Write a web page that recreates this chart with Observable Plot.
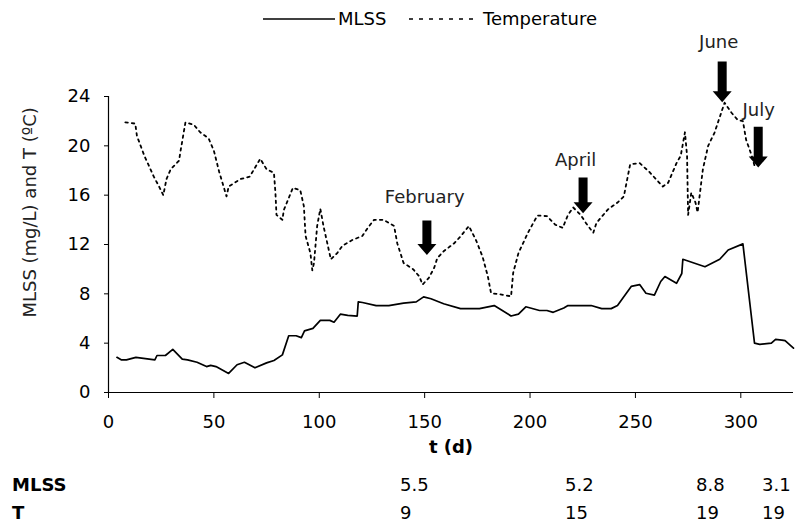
<!DOCTYPE html>
<html>
<head>
<meta charset="utf-8">
<script src="https://cdn.jsdelivr.net/npm/d3@7"></script>
<script src="https://cdn.jsdelivr.net/npm/@observablehq/plot@0.6"></script>
<style>
  body { margin: 0; background: #fff; font-family: "DejaVu Sans", Verdana, sans-serif; color: #000; }
  #wrap { position: relative; width: 795px; height: 522px; }
  #legend { position: relative; width: 795px; height: 40px; font-size: 18px; }
  #legend .item { position: absolute; top: 8px; line-height: 22px; white-space: nowrap; }
  #legend svg { position: absolute; top: 9px; }
  #table { position: absolute; left: 0; top: 465px; width: 795px; height: 57px; font-size: 18px; }
  #table div { position: absolute; line-height: 22px; white-space: nowrap; }
  .b { font-weight: bold; }
</style>
</head>
<body>
<div id="wrap">
  <div id="legend"></div>
  <div id="chart"></div>
  <div id="table"></div>
</div>
<script>
// ---- Data ----
const mlssDay = [4, 6, 8.5, 13, 22, 23, 27, 30.5, 35, 37.5, 42, 46.5, 48.5, 51, 57, 61, 64.5, 69.5, 75, 78.5, 82.5, 85.5, 89, 91.5, 93, 97, 100.5, 105, 107, 110, 113.5, 118, 118.5, 120.5, 127, 133, 140, 146, 149.5, 153, 159, 167, 176, 183, 191, 194.5, 198, 204.5, 208, 211, 216, 218, 229, 234, 238.5, 241.5, 248, 252, 255, 259, 262, 264, 269.5, 272, 272.5, 283, 290, 294, 301, 306.5, 309, 314.5, 316.5, 319.5, 321, 325];
const mlssVal = [2.85, 2.65, 2.65, 2.85, 2.65, 3.0, 3.0, 3.5, 2.7, 2.65, 2.45, 2.1, 2.2, 2.1, 1.55, 2.25, 2.45, 2.0, 2.4, 2.6, 3.05, 4.6, 4.6, 4.45, 5.0, 5.2, 5.85, 5.85, 5.7, 6.35, 6.25, 6.2, 7.35, 7.3, 7.05, 7.05, 7.25, 7.35, 7.75, 7.6, 7.2, 6.8, 6.8, 7.05, 6.2, 6.35, 6.95, 6.65, 6.65, 6.5, 6.85, 7.05, 7.05, 6.8, 6.8, 7.05, 8.6, 8.75, 8.05, 7.9, 9.0, 9.4, 8.85, 9.65, 10.8, 10.2, 10.8, 11.55, 12.05, 4.0, 3.9, 4.0, 4.3, 4.25, 4.2, 3.6];

const tempDay = [8, 12.7, 13.5, 17, 21.5, 24, 26, 27.5, 29.5, 33.5, 34, 36.5, 40.5, 43.5, 47.5, 50, 52.5, 56, 57, 62.5, 67, 72, 75, 78.5, 79.2, 79.7, 82.5, 83.2, 87.5, 91, 92.7, 93.5, 95.8, 96.7, 97.5, 99, 100.5, 102, 105.5, 108.5, 111, 115.5, 120.5, 123, 126, 130.5, 135.5, 137, 140, 144.5, 147.5, 149, 152, 154.5, 156, 159, 164, 167, 171, 174.5, 177.5, 180, 181.5, 186, 191, 192, 194.5, 199, 203.5, 208, 212, 215.5, 218, 220.5, 224, 226.5, 230, 231.5, 237, 241.5, 244.5, 247.5, 252, 256.5, 263, 265.5, 269.5, 271.5, 273.5, 274.5, 275, 276.5, 278.5, 279.5, 282, 284.5, 287.5, 292.3, 295.5, 298.5, 301, 302.5, 305, 306.5];
const tempVal = [21.9, 21.8, 20.8, 19.2, 17.5, 16.7, 16.0, 17.3, 18.1, 18.8, 19.4, 21.9, 21.7, 21.1, 20.6, 19.6, 17.9, 15.9, 16.7, 17.3, 17.5, 18.95, 18.1, 17.8, 16.2, 14.4, 14.0, 14.8, 16.6, 16.4, 15.1, 12.7, 11.3, 9.9, 10.5, 13.5, 14.9, 13.5, 10.8, 11.3, 11.9, 12.35, 12.7, 13.35, 14.0, 14.0, 13.5, 12.1, 10.5, 10.0, 9.4, 8.75, 9.3, 10.1, 10.9, 11.45, 12.1, 12.65, 13.5, 12.3, 11.0, 9.4, 8.05, 7.95, 7.8, 9.7, 11.3, 12.95, 14.35, 14.3, 13.6, 13.35, 14.4, 15.0, 14.4, 13.75, 12.95, 13.75, 14.85, 15.4, 15.9, 18.5, 18.6, 17.9, 16.7, 17.0, 18.6, 19.2, 21.1, 19.2, 14.4, 16.2, 15.4, 14.6, 18.1, 20.0, 21.05, 23.5, 22.7, 22.1, 22.0, 20.5, 19.3, 18.4];

const xTicks = [0, 50, 100, 150, 200, 250, 300];
const yTicks = [0, 4, 8, 12, 16, 20, 24];

const monthNames = ["February", "April", "June", "July"];
const arrowDay = [151.3, 225.4, 291.4, 308.5];
const arrowTip = [11.1, 14.5, 23.5, 18.2];
const arrowTop = [13.9, 17.4, 26.8, 21.5];
const labelDay = [150, 221.6, 289.5, 308.5];
const labelVal = [15.8, 18.8, 28.4, 22.9];

const seriesNames = ["MLSS", "Temperature"];
const yTitle = "MLSS (mg/L) and T (ºC)";
const xTitle = "t (d)";
const tableRows = ["MLSS", "T"];
const tableMLSS = ["5.5", "5.2", "8.8", "3.1"];
const tableT = ["9", "15", "19", "19"];

// ---- Build ----
const mlss = mlssDay.map((d, i) => ({day: d, v: mlssVal[i]}));
const temp = tempDay.map((d, i) => ({day: d, v: tempVal[i]}));
const arrows = monthNames.map((n, i) => ({name: n, day: arrowDay[i], tip: arrowTip[i], top: arrowTop[i]}));
const labels = monthNames.map((n, i) => ({name: n, day: labelDay[i], v: labelVal[i]}));

function arrowMark(index, scales) {
  const sx = scales.x, sy = scales.y;
  const g = d3.create("svg:g");
  for (const a of arrows) {
    const x = sx(a.day), y1 = sy(a.top), y2 = sy(a.tip);
    const sw = 4.5, hw = 9.5, hh = 11;
    g.append("path")
      .attr("d", `M${x - sw},${y1}L${x + sw},${y1}L${x + sw},${y2 - hh}L${x + hw},${y2 - hh}L${x},${y2}L${x - hw},${y2 - hh}L${x - sw},${y2 - hh}Z`)
      .attr("fill", "#000");
  }
  return g.node();
}

const chart = Plot.plot({
  width: 795,
  height: 425,
  marginLeft: 108,
  marginRight: 2,
  marginTop: 56,
  marginBottom: 73,
  style: {fontFamily: "DejaVu Sans, Verdana, sans-serif", fontSize: "18px", color: "#000", background: "#fff", overflow: "visible"},
  x: {domain: [0, 325]},
  y: {domain: [0, 24]},
  marks: [
    Plot.axisX({ticks: xTicks, tickSize: 6, tickPadding: 17, label: null, tickFormat: d => String(d)}),
    Plot.axisY({ticks: yTicks, tickSize: 4, tickPadding: 14, label: null, tickFormat: d => String(d)}),
    Plot.ruleY([0], {stroke: "#000", strokeWidth: 1.2}),
    Plot.ruleX([0], {stroke: "#000", strokeWidth: 1.2}),
    Plot.line(temp, {x: "day", y: "v", stroke: "#000", strokeWidth: 1.8, strokeDasharray: "2.5,4", curve: "linear"}),
    Plot.line(mlss, {x: "day", y: "v", stroke: "#000", strokeWidth: 1.7, curve: "linear"}),
    arrowMark,
    Plot.text(labels, {x: "day", y: "v", text: "name", fill: "#222", fontSize: 18}),
    Plot.text([xTitle], {frameAnchor: "bottom", dy: 60, fontWeight: "bold", fontSize: 18}),
    Plot.text([{x: 0, y: 14.6}], {x: "x", y: "y", text: () => yTitle, rotate: -90, dx: -78, fontSize: 18, fill: "#222"})
  ]
});
document.getElementById("chart").appendChild(chart);

// ---- Legend ----
const legend = document.getElementById("legend");
legend.innerHTML =
  `<svg width="72" height="20" style="left:263px"><line x1="0" y1="10" x2="72" y2="10" stroke="#000" stroke-width="1.5"/></svg>` +
  `<span class="item" style="left:338px">${seriesNames[0]}</span>` +
  `<svg width="72" height="20" style="left:407px"><line x1="2" y1="10" x2="72" y2="10" stroke="#000" stroke-width="1.6" stroke-dasharray="4,6"/></svg>` +
  `<span class="item" style="left:483px">${seriesNames[1]}</span>`;

// ---- Table ----
const table = document.getElementById("table");
const colLeft = [400, 565, 696, 762];
const rowTop = [9, 37];
let html = "";
tableRows.forEach((r, i) => { html += `<div class="b" style="left:12px;top:${rowTop[i]}px">${r}</div>`; });
tableMLSS.forEach((v, j) => { html += `<div style="left:${colLeft[j]}px;top:${rowTop[0]}px">${v}</div>`; });
tableT.forEach((v, j) => { html += `<div style="left:${colLeft[j]}px;top:${rowTop[1]}px">${v}</div>`; });
table.innerHTML = html;
</script>
</body>
</html>
